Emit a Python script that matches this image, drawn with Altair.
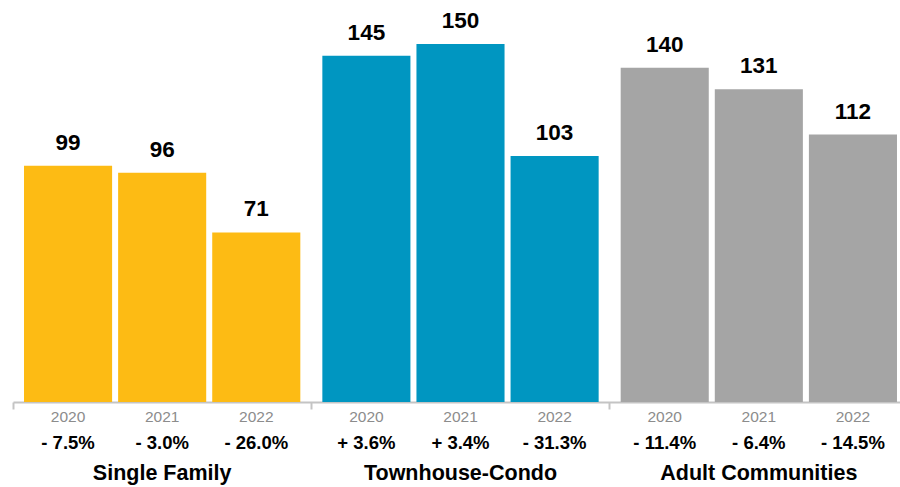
import altair as alt
import pandas as pd

categories = ["Single Family", "Townhouse-Condo", "Adult Communities"]
years = ["2020", "2021", "2022"]
values_sf = [99, 96, 71]
values_tc = [145, 150, 103]
values_ac = [140, 131, 112]
pct_sf = ["- 7.5%", "- 3.0%", "- 26.0%"]
pct_tc = ["+ 3.6%", "+ 3.4%", "- 31.3%"]
pct_ac = ["- 11.4%", "- 6.4%", "- 14.5%"]
colors = ["#FDBB14", "#0096C1", "#A5A5A5"]

rows = []
for cat, vals, pcts in zip(categories, [values_sf, values_tc, values_ac], [pct_sf, pct_tc, pct_ac]):
    for yr, v, p in zip(years, vals, pcts):
        rows.append({"category": cat, "year": yr, "value": v, "pct": p})
df = pd.DataFrame(rows)
groups = pd.DataFrame({"category": categories})

FONT = "Liberation Sans"
H = 382

x_enc = alt.X(
    "category:N", sort=categories,
    scale=alt.Scale(paddingInner=0, paddingOuter=0, range=[0, 895]),
    axis=alt.Axis(title=None, labels=False, bandPosition=0, grid=False,
                  domainColor="#C4C4C4", domainWidth=2,
                  tickColor="#C4C4C4", tickWidth=2, tickSize=7),
)
xo_enc = alt.XOffset("year:N", sort=years,
                     scale=alt.Scale(paddingInner=0.064, paddingOuter=0.117))

base = alt.Chart(df)

bars = base.mark_bar().encode(
    x=x_enc, xOffset=xo_enc,
    y=alt.Y("value:Q", scale=alt.Scale(domain=[0, 160]), axis=None),
    color=alt.Color("category:N", sort=categories,
                    scale=alt.Scale(domain=categories, range=colors), legend=None),
)

vals = base.mark_text(font=FONT, fontSize=22.5, fontWeight="bold", color="#000000",
                      baseline="alphabetic", dy=-16).encode(
    x=x_enc, xOffset=xo_enc, y=alt.Y("value:Q"), text="value:Q")

yr_txt = base.mark_text(font=FONT, fontSize=15.5, color="#8C8C8C",
                        baseline="alphabetic").encode(
    x=x_enc, xOffset=xo_enc, y=alt.value(H + 20), text="year:N")

pct_txt = base.mark_text(font=FONT, fontSize=18.5, fontWeight="bold", color="#000000",
                         baseline="alphabetic").encode(
    x=x_enc, xOffset=xo_enc, y=alt.value(H + 47), text="pct:N")

grp_txt = alt.Chart(groups).mark_text(font=FONT, fontSize=21.5, fontWeight="bold",
                                      color="#000000", baseline="alphabetic").encode(
    x=x_enc, y=alt.value(H + 78), text="category:N")

chart = alt.layer(bars, vals, yr_txt, pct_txt, grp_txt).properties(
    width=887, height=H,
    autosize=alt.AutoSizeParams(type="none"),
    padding={"left": 13, "top": 20, "right": 0, "bottom": 85},
    background="#FFFFFF",
).configure_view(stroke=None)

chart.save("out.html", embed_options={"renderer": "svg", "actions": False})
